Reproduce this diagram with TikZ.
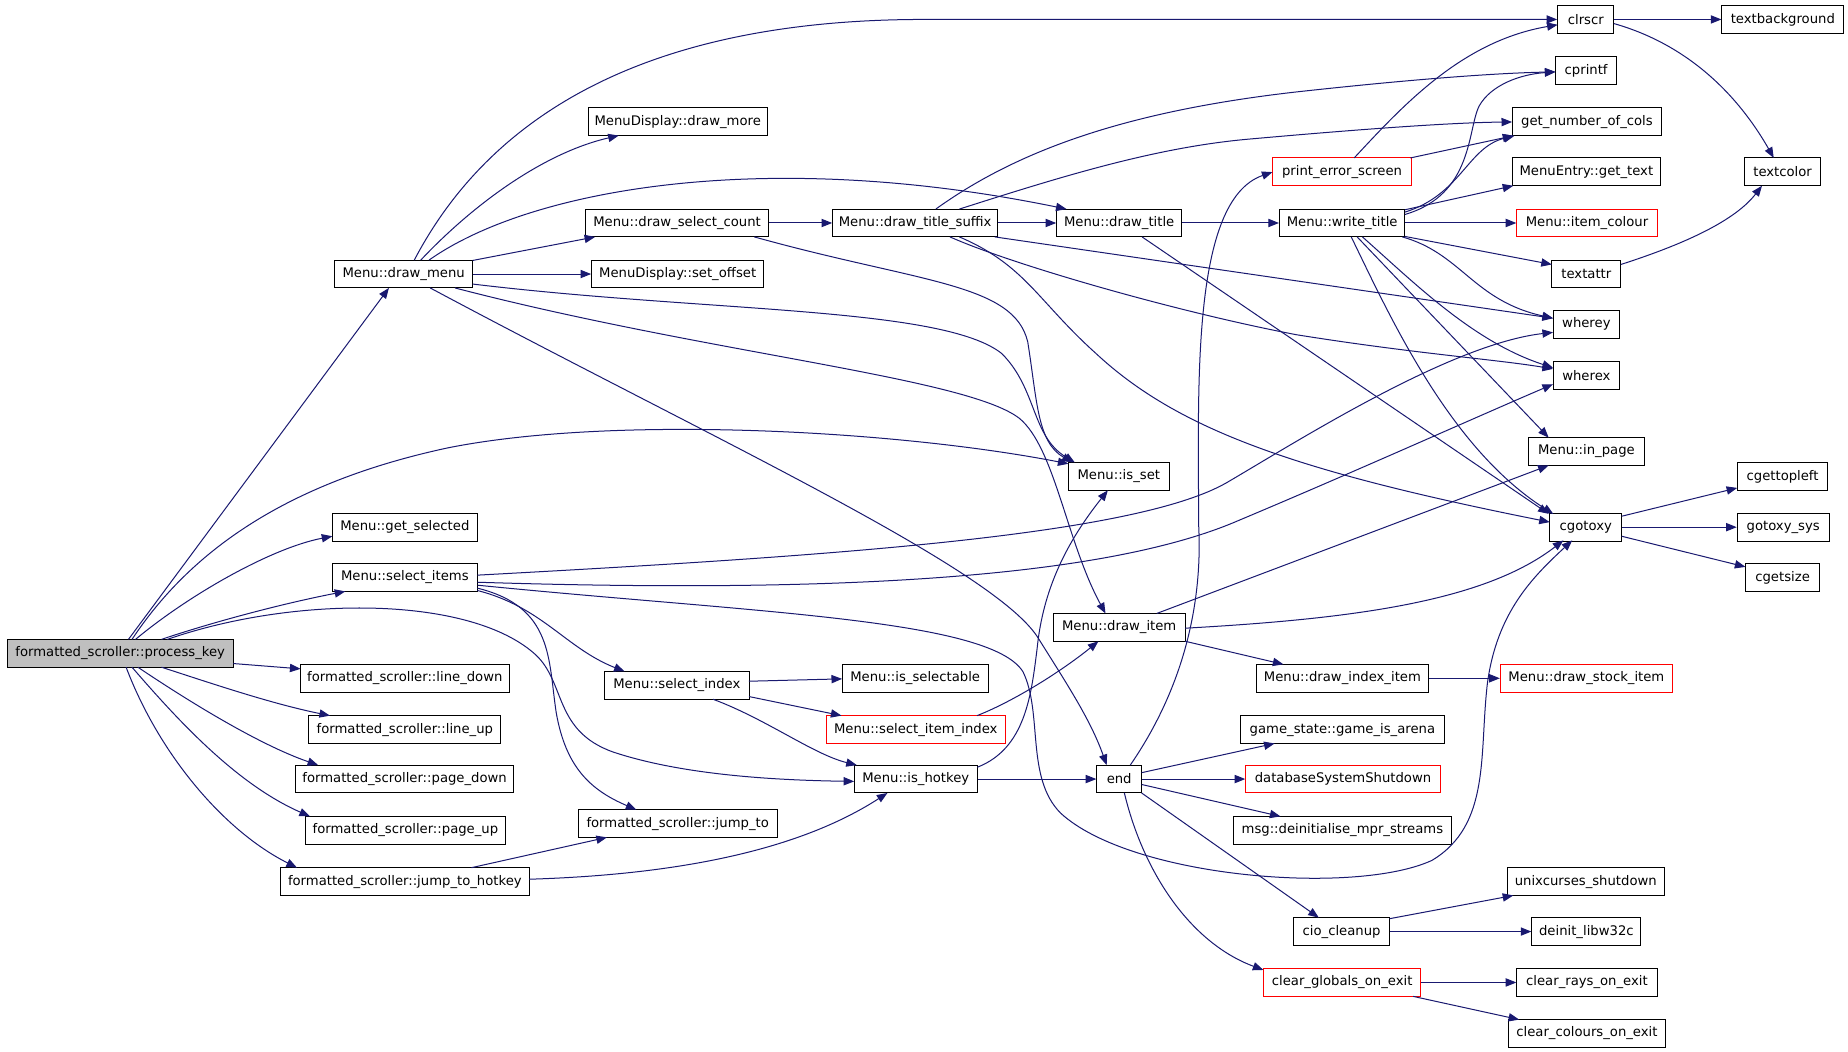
\documentclass[tikz,border=0pt]{standalone}
\usepackage{fontspec}
\setmainfont{DejaVu Sans}
\usetikzlibrary{arrows.meta,calc}
\definecolor{navyc}{HTML}{191970}
\begin{document}
\begin{tikzpicture}[x=1pt,y=-1pt,
  box/.style={draw=black, fill=white, line width=0.85pt, minimum height=23.6pt, inner sep=0pt, font=\fontsize{11.2}{13}\selectfont},
  rbox/.style={box, draw=red},
  call/.style={draw=navyc, line width=0.85pt, -{Triangle[length=9pt,width=7pt]}}]
\path[use as bounding box, fill=white] (0,0) rectangle (1568,891.8);
% nodes
\node[box, minimum width=192pt, fill=gray!50] (pk) at (102,554.3) {formatted\_scroller::process\_key};
\node[box, minimum width=117pt] (dm) at (342.5,232.5) {Menu::draw\_menu};
\node[box, minimum width=152pt] (dmore) at (575,103.3) {MenuDisplay::draw\_more};
\node[box, minimum width=155pt] (dsc) at (574.5,189.2) {Menu::draw\_select\_count};
\node[box, minimum width=146pt] (so) at (575,232.5) {MenuDisplay::set\_offset};
\node[box, minimum width=123pt] (gs) at (343.5,447.5) {Menu::get\_selected};
\node[box, minimum width=123pt] (si) at (343.5,490) {Menu::select\_items};
\node[box, minimum width=177pt] (ld) at (343.5,575.5) {formatted\_scroller::line\_down};
\node[box, minimum width=163pt] (lu) at (343.5,619) {formatted\_scroller::line\_up};
\node[box, minimum width=185pt] (pd) at (343.3,661) {formatted\_scroller::page\_down};
\node[box, minimum width=170pt] (pu) at (344,704.5) {formatted\_scroller::page\_up};
\node[box, minimum width=211pt] (jth) at (343.5,748) {formatted\_scroller::jump\_to\_hotkey};
\node[box, minimum width=169pt] (jt) at (575,698.8) {formatted\_scroller::jump\_to};
\node[box, minimum width=122.5pt] (six) at (574.3,581.5) {Menu::select\_index};
\node[box, minimum width=124pt] (isel) at (776.5,575.5) {Menu::is\_selectable};
\node[rbox, minimum width=152pt] (sii) at (777,619) {Menu::select\_item\_index};
\node[box, minimum width=104.5pt] (ih) at (777,661) {Menu::is\_hotkey};
\node[box, minimum width=112pt] (di) at (949.6,532.3) {Menu::draw\_item};
\node[box, minimum width=146pt] (dii) at (1139,575.5) {Menu::draw\_index\_item};
\node[rbox, minimum width=146pt] (dsi) at (1346,575.5) {Menu::draw\_stock\_item};
\node[box, minimum width=38pt] (endn) at (949.6,661) {end};
\node[box, minimum width=173pt] (gia) at (1139,619) {game\_state::game\_is\_arena};
\node[rbox, minimum width=165pt] (dss) at (1139.5,661) {databaseSystemShutdown};
\node[box, minimum width=185pt] (mpr) at (1139,704.5) {msg::deinitialise\_mpr\_streams};
\node[box, minimum width=133pt] (ucs) at (1345.5,748) {unixcurses\_shutdown};
\node[box, minimum width=81.3pt] (cio) at (1138.3,790.4) {cio\_cleanup};
\node[box, minimum width=92.5pt] (dl) at (1346,790.4) {deinit\_libw32c};
\node[rbox, minimum width=133.7pt] (cge) at (1138.8,833.6) {clear\_globals\_on\_exit};
\node[box, minimum width=119pt] (cre) at (1346.5,833.6) {clear\_rays\_on\_exit};
\node[box, minimum width=133.6pt] (cce) at (1346.5,876.9) {clear\_colours\_on\_exit};
\node[box, minimum width=61pt] (cgo) at (1345.5,447.3) {cgotoxy};
\node[box, minimum width=78pt] (gsys) at (1513,447.3) {gotoxy\_sys};
\node[box, minimum width=63pt] (cgs) at (1512.5,490) {cgetsize};
\node[box, minimum width=77pt] (ctl) at (1512.5,404.2) {cgettopleft};
\node[box, minimum width=98pt] (inp) at (1346,383.1) {Menu::in\_page};
\node[box, minimum width=85.4pt] (iss) at (949.3,404.2) {Menu::is\_set};
\node[box, minimum width=56.6pt] (wx) at (1346,318.5) {wherex};
\node[box, minimum width=56.6pt] (wy) at (1346,275.2) {wherey};
\node[box, minimum width=58.5pt] (ta) at (1346,232.5) {textattr};
\node[rbox, minimum width=119pt] (ic) at (1346.5,189.2) {Menu::item\_colour};
\node[box, minimum width=126pt] (gt) at (1346,145.8) {MenuEntry::get\_text};
\node[box, minimum width=127pt] (gnc) at (1346.5,103.4) {get\_number\_of\_cols};
\node[box, minimum width=52pt] (cpf) at (1345.8,59.8) {cprintf};
\node[box, minimum width=47.7pt] (clr) at (1345.5,16.5) {clrscr};
\node[box, minimum width=103.4pt] (tbg) at (1512.7,16.5) {textbackground};
\node[box, minimum width=65pt] (tc) at (1512.5,145.8) {textcolor};
\node[rbox, minimum width=118pt] (pes) at (1138.7,145.8) {print\_error\_screen};
\node[box, minimum width=106.4pt] (wt) at (1138.8,189.2) {Menu::write\_title};
\node[box, minimum width=106pt] (dt) at (949.6,189.2) {Menu::draw\_title};
\node[box, minimum width=140pt] (dts) at (776.5,189.2) {Menu::draw\_title\_suffix};
% edges from process_key
\draw[call] ($(pk)+(7,-11.8)$) -- ($(dm)+(-12.5,11.8)$);
\draw[call] ($(pk)+(10,-11.8)$) .. controls (160,470) and (240,410) .. (380,380) .. controls (520,352) and (760,365) .. ($(iss)+(-42.7,-10.7)$);
\draw[call] ($(pk)+(13,-11.8)$) .. controls (160,505) and (230,465) .. ($(gs)+(-61.5,7.5)$);
\draw[call] ($(pk)+(35,-11.8)$) .. controls (180,528) and (240,512) .. ($(si)+(-50.5,11.8)$);
\draw[call] ($(pk)+(40,-11.8)$) .. controls (250,505) and (400,505) .. (455,556) .. controls (480,580) and (470,620) .. (520,638) .. controls (580,658) and (660,662) .. ($(ih)+(-52.25,2)$);
\draw[call] ($(pk)+(96,8.7)$) -- ($(ld)+(-88.5,-8)$);
\draw[call] ($(pk)+(35,11.8)$) .. controls (180,580) and (230,597) .. ($(lu)+(-63.5,-11.8)$);
\draw[call] ($(pk)+(15,11.8)$) .. controls (160,595) and (220,632) .. ($(pd)+(-73.3,-11.8)$);
\draw[call] ($(pk)+(10,11.8)$) .. controls (150,610) and (200,665) .. ($(pu)+(-81,-11.8)$);
\draw[call] ($(pk)+(5,11.8)$) .. controls (135,640) and (190,705) .. ($(jth)+(-91.5,-11.8)$);
% jump_to_hotkey
\draw[call] ($(jth)+(56.5,-11.8)$) -- ($(jt)+(-60,11.7)$);
\draw[call] ($(jth)+(105.5,-2)$) .. controls (580,742) and (680,720) .. ($(ih)+(-24,11.8)$);
% select_items
\draw[call] ($(si)+(61.5,11)$) .. controls (460,515) and (480,550) .. ($(six)+(-44.3,-11.8)$);
\draw[call] ($(si)+(61.5,9)$) .. controls (470,515) and (465,560) .. (472,605) .. controls (480,650) and (500,670) .. ($(jt)+(-35,-11.8)$);
\draw[call] ($(si)+(61.5,-2)$) .. controls (700,472) and (960,455) .. (1040,410) .. controls (1100,375) and (1230,292) .. ($(wy)+(-28.3,6.8)$);
\draw[call] ($(si)+(61.5,4)$) .. controls (750,505) and (950,485) .. (1050,442) .. controls (1150,400) and (1250,355) .. ($(wx)+(-28.3,7.5)$);
\draw[call] ($(si)+(61.5,6.5)$) .. controls (640,520) and (840,525) .. (868,570) .. controls (885,605) and (870,660) .. (900,690) .. controls (960,745) and (1150,760) .. (1215,730) .. controls (1265,700) and (1255,640) .. (1262,580) .. controls (1270,520) and (1300,490) .. ($(cgo)+(-11.5,11.2)$);
% select_index
\draw[call] ($(six)+(61.2,-3.5)$) -- ($(isel)+(-62,0.5)$);
\draw[call] ($(six)+(61.2,9.5)$) -- ($(sii)+(-63,-11.8)$);
\draw[call] ($(six)+(30.7,11.8)$) .. controls (650,610) and (690,640) .. ($(ih)+(-50,-11.8)$);
\draw[call] ($(sii)+(52,-11.8)$) .. controls (860,595) and (900,570) .. ($(di)+(-17.6,11.8)$);
% is_hotkey
\draw[call] (ih.east) -- (endn.west);
\draw[call] ($(ih)+(52.25,-10)$) .. controls (870,635) and (875,590) .. (880,550) .. controls (885,500) and (905,460) .. ($(iss)+(-9.3,11.8)$);
% end
\draw[call] ($(endn)+(9.4,-11.8)$) .. controls (1010,575) and (1020,500) .. (1017,445) .. controls (1017,330) and (1010,170) .. ($(pes)+(-59,0.2)$);
\draw[call] ($(endn)+(19,-5.4)$) -- ($(gia)+(-57.5,11.8)$);
\draw[call] (endn.east) -- (dss.west);
\draw[call] ($(endn)+(19,4.6)$) -- ($(mpr)+(-52.5,-11.8)$);
\draw[call] ($(endn)+(19,11.8)$) -- ($(cio)+(-19.3,-11.8)$);
\draw[call] ($(endn)+(4.4,11.8)$) .. controls (970,740) and (1010,800) .. ($(cge)+(-66.8,-10.6)$);
\draw[call] ($(cio)+(40.65,-10.9)$) -- ($(ucs)+(-61.5,11.8)$);
\draw[call] (cio.east) -- (dl.west);
\draw[call] (cge.east) -- (cre.west);
\draw[call] ($(cge)+(60.2,11.8)$) -- ($(cce)+(-57.5,-11.8)$);
% draw_item
\draw[call] ($(di)+(56,11.8)$) -- ($(dii)+(-50,-11.8)$);
\draw[call] (dii.east) -- (dsi.west);
\draw[call] ($(di)+(31.9,-11.8)$) -- ($(inp)+(-32,11.8)$);
\draw[call] ($(di)+(56,0.7)$) .. controls (1150,525) and (1260,510) .. ($(cgo)+(-19,11.2)$);
% draw_menu
\draw[call] ($(dm)+(14.5,-11.8)$) .. controls (400,175) and (460,130) .. ($(dmore)+(-50,11.7)$);
\draw[call] ($(dm)+(9,-11.8)$) .. controls (420,90) and (560,16.5) .. (784,16.5) -- (clr.west);
\draw[call] ($(dm)+(21.5,-11.8)$) .. controls (450,160) and (650,125) .. ($(dt)+(-44.6,-11.8)$);
\draw[call] ($(dm)+(58.5,-11.5)$) -- ($(dsc)+(-69.5,11.8)$);
\draw[call] (dm.east) -- (so.west);
\draw[call] ($(dm)+(58.5,8.5)$) .. controls (600,265) and (800,260) .. (850,300) .. controls (880,330) and (875,370) .. ($(iss)+(-37.3,-11.8)$);
\draw[call] ($(dm)+(43.5,11.8)$) .. controls (600,300) and (820,320) .. (865,355) .. controls (895,380) and (905,460) .. ($(di)+(-11.6,-11.8)$);
\draw[call] ($(dm)+(22.5,11.8)$) .. controls (600,370) and (840,480) .. (880,540) .. controls (905,580) and (925,610) .. ($(endn)+(-10.6,-11.8)$);
% draw_select_count
\draw[call] (dsc.east) -- (dts.west);
\draw[call] ($(dsc)+(65.5,11.8)$) .. controls (780,240) and (860,240) .. (872,290) .. controls (880,340) and (880,375) .. ($(iss)+(-39.3,-11.8)$);
% draw_title_suffix
\draw[call] (dts.east) -- (dt.west);
\draw[call] ($(dts)+(17.5,-11.8)$) .. controls (860,130) and (950,95) .. (1100,78) .. controls (1200,67) and (1270,62) .. ($(cpf)+(-26,1.2)$);
\draw[call] ($(dts)+(37.5,-11.8)$) .. controls (900,150) and (980,125) .. (1060,118) .. controls (1150,110) and (1230,104) .. ($(gnc)+(-63.5,0.1)$);
\draw[call] ($(dts)+(67.5,11.8)$) -- ($(wy)+(-28.3,-5.2)$);
\draw[call] ($(dts)+(29.5,11.8)$) .. controls (860,225) and (1000,265) .. (1100,284) .. controls (1200,300) and (1270,305) .. ($(wx)+(-28.3,-5.5)$);
\draw[call] ($(dts)+(37.5,11.8)$) .. controls (870,225) and (880,255) .. (930,300) .. controls (1000,365) and (1100,400) .. ($(cgo)+(-30.5,-4.3)$);
% draw_title
\draw[call] (dt.east) -- (wt.west);
\draw[call] ($(dt)+(19.4,11.8)$) -- ($(cgo)+(-31.5,-11.3)$);
% write_title
\draw[call] ($(wt)+(53.2,-11.2)$) -- ($(gt)+(-62,11.8)$);
\draw[call] ($(wt)+(53.2,-9.2)$) .. controls (1240,165) and (1245,125) .. ($(gnc)+(-61.5,11.8)$);
\draw[call] ($(wt)+(53.2,-7.2)$) .. controls (1250,165) and (1245,110) .. (1255,90) .. controls (1265,72) and (1290,63) .. ($(cpf)+(-26,1.2)$);
\draw[call] (wt.east) -- (ic.west);
\draw[call] ($(wt)+(53.2,11.4)$) -- ($(ta)+(-29.25,-8.1)$);
\draw[call] ($(wt)+(51,11.8)$) .. controls (1240,215) and (1250,255) .. ($(wy)+(-28.3,-5.2)$);
\draw[call] ($(wt)+(17.2,11.8)$) .. controls (1200,240) and (1250,290) .. ($(wx)+(-28.3,-6.5)$);
\draw[call] ($(wt)+(12.7,11.8)$) -- ($(inp)+(-32,-11.8)$);
\draw[call] ($(wt)+(7.7,11.8)$) .. controls (1180,270) and (1230,380) .. ($(cgo)+(-27.5,-11.2)$);
% print_error_screen
\draw[call] ($(pes)+(10.3,-11.8)$) .. controls (1190,90) and (1240,35) .. ($(clr)+(-23.85,4.5)$);
\draw[call] ($(pes)+(58,-11.8)$) -- ($(gnc)+(-62.5,11.8)$);
% clrscr, textattr, cgotoxy
\draw[call] (clr.east) -- (tbg.west);
\draw[call] ($(clr)+(23.85,3.5)$) .. controls (1440,40) and (1480,90) .. ($(tc)+(-7.5,-11.8)$);
\draw[call] ($(ta)+(29.25,-8.1)$) .. controls (1420,210) and (1470,190) .. ($(tc)+(-17.5,11.8)$);
\draw[call] ($(cgo)+(30.5,-9.3)$) -- ($(ctl)+(-38.5,9.8)$);
\draw[call] (cgo.east) -- (gsys.west);
\draw[call] ($(cgo)+(30.5,7.7)$) -- ($(cgs)+(-31.5,-9)$);
\end{tikzpicture}
\end{document}
